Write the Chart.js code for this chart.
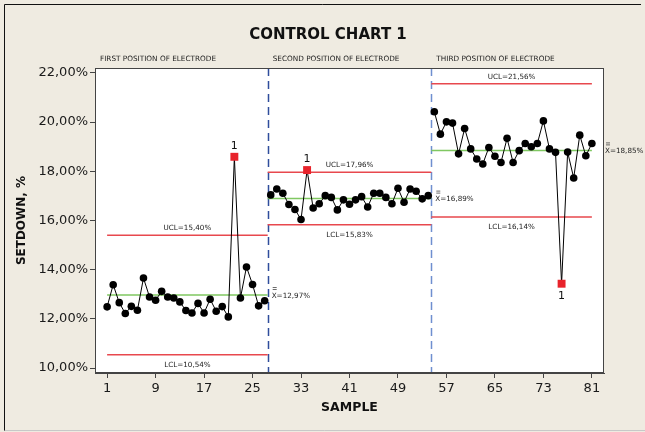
<!DOCTYPE html>
<html>
<head>
<meta charset="utf-8">
<script src="https://cdn.jsdelivr.net/npm/chart.js@4"></script>
<style>
  html, body { margin: 0; padding: 0; background: #efebe1; }
  #wrap { width: 645px; height: 432px; }
</style>
</head>
<body>
<div id="wrap"><canvas id="chart" width="645" height="432"></canvas></div>
<script>
// control chart data
const phaseNames = ['FIRST POSITION OF ELECTRODE', 'SECOND POSITION OF ELECTRODE', 'THIRD POSITION OF ELECTRODE'];
const phaseStart = [1, 28, 55];
const phaseBounds = [1, 27.5, 54.5, 81];

const phase1 = [12.49, 13.39, 12.66, 12.22, 12.51, 12.35, 13.66, 12.89, 12.76, 13.12,
                12.89, 12.85, 12.69, 12.34, 12.24, 12.63, 12.24, 12.80, 12.31, 12.50,
                12.08, 18.59, 12.85, 14.11, 13.40, 12.53, 12.74];
const phase2 = [17.04, 17.28, 17.11, 16.65, 16.45, 16.04, 18.05, 16.51, 16.68, 17.01,
                16.94, 16.43, 16.84, 16.66, 16.84, 16.97, 16.55, 17.11, 17.11, 16.94,
                16.68, 17.31, 16.74, 17.28, 17.19, 16.88, 17.01];
const phase3 = [20.42, 19.51, 20.01, 19.96, 18.71, 19.74, 18.91, 18.50, 18.30, 18.97,
                18.61, 18.36, 19.34, 18.36, 18.84, 19.13, 19.00, 19.13, 20.05, 18.91,
                18.77, 13.43, 18.78, 17.73, 19.47, 18.63, 19.13];

const ucl = [15.40, 17.96, 21.56];
const centre = [12.97, 16.89, 18.85];
const lcl = [10.54, 15.83, 16.14];
const flagged = [22, 34, 76];

const xTicks = [1, 9, 17, 25, 33, 41, 49, 57, 65, 73, 81];
const yTicks = [10, 12, 14, 16, 18, 20, 22];

const FONT = "'DejaVu Sans', sans-serif";
const pct = v => v.toFixed(2).replace('.', ',') + '%';

const phases = [phase1, phase2, phase3];
const allValues = {};
const phaseSets = phases.map((vals, p) => {
    const pts = vals.map((v, i) => {
        const s = phaseStart[p] + i;
        allValues[s] = v;
        return { x: s, y: v };
    });
    const isFlag = pts.map(pt => flagged.includes(pt.x));
    return {
        data: pts,
        borderColor: '#000',
        borderWidth: 1,
        pointStyle: isFlag.map(f => f ? 'rect' : 'circle'),
        pointRadius: isFlag.map(f => f ? 5.6 : 3.8),
        pointBackgroundColor: isFlag.map(f => f ? '#e8232b' : '#000'),
        pointBorderColor: isFlag.map(f => f ? '#e8232b' : '#000'),
        pointBorderWidth: 0,
        tension: 0
    };
});

const limitSet = (vals, color) => {
    const data = [];
    vals.forEach((v, p) => {
        if (p > 0) data.push({ x: phaseBounds[p], y: null });
        data.push({ x: phaseBounds[p], y: v }, { x: phaseBounds[p + 1], y: v });
    });
    return { data, borderColor: color, borderWidth: 1.5, pointRadius: 0, spanGaps: false };
};

const RED = 'rgb(232, 72, 78)';
const GREEN = 'rgb(128, 200, 98)';

const decor = {
    id: 'decor',
    beforeDraw(chart) {
        const { ctx, chartArea: a } = chart;
        ctx.save();
        ctx.fillStyle = '#efebe1';
        ctx.fillRect(0, 0, chart.width, chart.height);
        ctx.strokeStyle = '#111';
        ctx.lineWidth = 1;
        ctx.beginPath();
        ctx.moveTo(4.5, 431); ctx.lineTo(4.5, 4.5); ctx.lineTo(641, 4.5);
        ctx.stroke();
        ctx.strokeStyle = '#c8c8c8';
        ctx.beginPath();
        ctx.moveTo(4.5, 430.5); ctx.lineTo(645, 430.5);
        ctx.stroke();
        ctx.fillStyle = '#fff';
        ctx.fillRect(a.left, a.top, a.right - a.left, a.bottom - a.top);
        ctx.restore();
    },
    beforeDatasetsDraw(chart) {
        const { ctx, chartArea: a, scales: { x } } = chart;
        ctx.save();
        ctx.lineWidth = 1.5;
        ctx.setLineDash([8, 5]);
        [[phaseBounds[1], '#2f4d9c'], [phaseBounds[2], '#6f8fd0']].forEach(([b, c]) => {
            const px = Math.round(x.getPixelForValue(b)) + 0.5;
            ctx.strokeStyle = c;
            ctx.beginPath();
            ctx.moveTo(px, a.top);
            ctx.lineTo(px, a.bottom);
            ctx.stroke();
        });
        ctx.restore();
    },
    afterDraw(chart) {
        const { ctx, chartArea: a, scales: { x, y } } = chart;
        ctx.save();
        // plot frame
        ctx.strokeStyle = '#444';
        ctx.lineWidth = 1;
        ctx.strokeRect(a.left + 0.5, a.top + 0.5, a.right - a.left - 1, a.bottom - a.top - 1);

        // title and phase captions
        ctx.fillStyle = '#111';
        ctx.textBaseline = 'middle';
        ctx.textAlign = 'center';
        ctx.font = 'bold 15px ' + FONT;
        ctx.fillText('CONTROL CHART 1', 328, 35);
        ctx.font = '7.3px ' + FONT;
        ctx.textAlign = 'left';
        phaseNames.forEach((n, p) => {
            const left = p === 0 ? a.left : x.getPixelForValue(phaseBounds[p]);
            ctx.fillStyle = '#222';
            ctx.fillText(n, left + 5, 59);
        });

        // limit labels
        ctx.font = '7.2px ' + FONT;
        ctx.fillStyle = '#222';
        for (let p = 0; p < 3; p++) {
            const x0 = x.getPixelForValue(phaseBounds[p]);
            const x1 = x.getPixelForValue(phaseBounds[p + 1]);
            const mid = (x0 + x1) / 2;
            ctx.textAlign = 'center';
            ctx.fillText('UCL=' + pct(ucl[p]), mid, y.getPixelForValue(ucl[p]) - 7);
            ctx.fillText('LCL=' + pct(lcl[p]), mid, y.getPixelForValue(lcl[p]) + 10);
            const lx = p === 2 ? a.right + 1 : x1 + 4;
            const ly = y.getPixelForValue(centre[p]) + 1;
            ctx.textAlign = 'left';
            ctx.fillText('X=' + pct(centre[p]), lx, ly);
            ctx.strokeStyle = '#444';
            ctx.lineWidth = 0.8;
            ctx.beginPath();
            ctx.moveTo(lx + 1, ly - 6.5); ctx.lineTo(lx + 5, ly - 6.5);
            ctx.moveTo(lx + 1, ly - 8.5); ctx.lineTo(lx + 5, ly - 8.5);
            ctx.stroke();
        }

        // test-1 flags
        ctx.font = '11px ' + FONT;
        ctx.fillStyle = '#111';
        ctx.textAlign = 'center';
        flagged.forEach(s => {
            const v = allValues[s];
            const p = s < phaseBounds[1] ? 0 : s < phaseBounds[2] ? 1 : 2;
            const px = x.getPixelForValue(s);
            const py = y.getPixelForValue(v);
            ctx.fillText('1', px, v > ucl[p] ? py - 11 : py + 12);
        });
        ctx.restore();
    }
};

Chart.defaults.font.family = FONT;
Chart.defaults.color = '#222';

new Chart(document.getElementById('chart').getContext('2d'), {
    type: 'line',
    data: {
        datasets: [
            ...phaseSets,
            limitSet(ucl, RED),
            limitSet(centre, GREEN),
            limitSet(lcl, RED)
        ]
    },
    options: {
        responsive: false,
        animation: false,
        devicePixelRatio: 1,
        layout: { padding: { top: 68, right: 41, bottom: 0, left: 0 } },
        plugins: {
            legend: { display: false },
            tooltip: { enabled: false },
            title: { display: false }
        },
        scales: {
            x: {
                type: 'linear',
                min: -1,
                max: 83,
                afterBuildTicks: s => { s.ticks = xTicks.map(v => ({ value: v })); },
                afterFit: s => { s.height = 59; },
                ticks: { font: { size: 13 }, color: '#1a1a1a', padding: 3, autoSkip: false, maxRotation: 0, callback: v => String(v) },
                grid: { drawOnChartArea: false, tickLength: 5, color: '#444' },
                border: { display: true, color: '#444' },
                title: { display: true, text: 'SAMPLE', font: { size: 12.5, weight: 'bold' }, color: '#111', padding: { top: 0, bottom: 17 } }
            },
            y: {
                min: 9.8,
                max: 22.2,
                afterBuildTicks: s => { s.ticks = yTicks.map(v => ({ value: v })); },
                afterFit: s => { s.width = 95; },
                ticks: { font: { size: 13 }, color: '#1a1a1a', padding: 2, callback: v => pct(v) },
                grid: { drawOnChartArea: false, tickLength: 5, color: '#444' },
                border: { display: true, color: '#444' },
                title: { display: true, text: 'SETDOWN, %', font: { size: 12, weight: 'bold' }, color: '#111', padding: { top: 15, bottom: 0 } }
            }
        }
    },
    plugins: [decor]
});
</script>
</body>
</html>
